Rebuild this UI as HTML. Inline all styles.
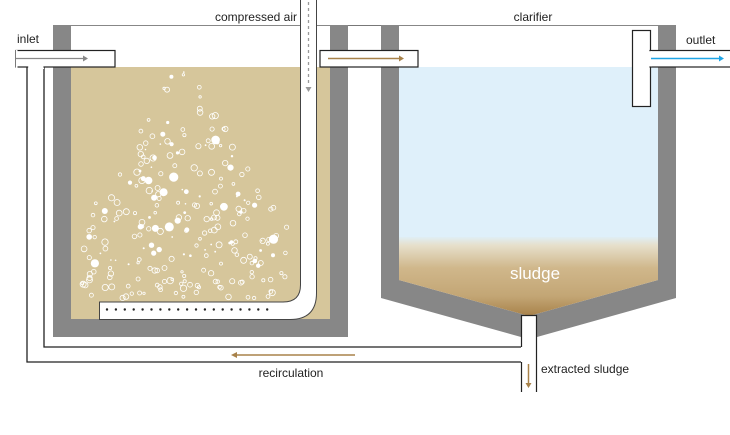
<!DOCTYPE html>
<html><head><meta charset="utf-8"><style>
html,body{margin:0;padding:0;background:#fff;}
svg{display:block;font-family:"Liberation Sans",sans-serif;}
</style></head><body>
<svg id="s" width="730" height="435" viewBox="0 0 730 435">
<defs>
<linearGradient id="sl" gradientUnits="userSpaceOnUse" x1="0" y1="236" x2="0" y2="316">
<stop offset="0" stop-color="#dff0fa"/>
<stop offset="0.12" stop-color="#e6dfca"/>
<stop offset="0.4" stop-color="#d0b78b"/>
<stop offset="0.75" stop-color="#c3a675"/>
<stop offset="1" stop-color="#a8824a"/>
</linearGradient>
</defs>
<line x1="53" y1="25.5" x2="676" y2="25.5" stroke="#777" stroke-width="1"/>
<rect x="53" y="25" width="295" height="312" fill="#878787"/>
<rect x="71" y="26" width="259" height="293" fill="#fff"/>
<rect x="71" y="67" width="259" height="252" fill="#d6c69b"/>
<g id="bub"></g>
<polygon points="381,25 676,25 676,298 537,337 521,337 381,298" fill="#878787"/>
<polygon points="399,26 658,26 658,280 529,316 399,280" fill="#fff"/>
<polygon points="399,67 658,67 658,280 529,316 399,280" fill="url(#sl)"/>
<rect x="399" y="67" width="259" height="170" fill="#dff0fa"/>
<text x="535" y="279" font-size="17" fill="#fff" text-anchor="middle">sludge</text>
<path d="M27,67 V362 H521 M44,67 V347 H521" fill="none" stroke="#222" stroke-width="1.3"/>
<rect x="28" y="67" width="16" height="2" fill="#fff"/>
<rect x="521" y="315" width="16" height="80" fill="#fff"/>
<path d="M521.5,315 V347 M521.5,362 V392 M536.5,315 V392 M521,315.5 H537" fill="none" stroke="#222" stroke-width="1.2"/>
<rect x="16" y="50.5" width="99" height="16.5" fill="#fff" stroke="#222" stroke-width="1.2"/>
<rect x="16" y="50" width="1.5" height="18" fill="#fff"/>
<rect x="28.2" y="66" width="15.2" height="3" fill="#fff"/>
<line x1="16" y1="58.5" x2="83" y2="58.5" stroke="#888" stroke-width="1.3"/>
<polygon points="83,55.5 88,58.5 83,61.5" fill="#888"/>
<text x="17" y="43" font-size="12" fill="#222">inlet</text>
<rect x="320" y="50.5" width="98" height="16.5" fill="#fff" stroke="#222" stroke-width="1.2"/>
<line x1="328" y1="58.5" x2="400" y2="58.5" stroke="#a8824a" stroke-width="1.5"/>
<polygon points="399,55.5 404,58.5 399,61.5" fill="#a8824a"/>
<path d="M300.5,0 V285 Q300.5,302 283,302 H99.5 V319.5 H290 Q316.5,319.5 316.5,293 V0" fill="#fff" stroke="#444" stroke-width="1"/>
<line x1="308.5" y1="2" x2="308.5" y2="86" stroke="#999" stroke-width="1.3" stroke-dasharray="3,3"/>
<polygon points="305.5,87 311.5,87 308.5,92" fill="#999"/>
<text x="297" y="21" font-size="12" fill="#222" text-anchor="end">compressed air</text>
<g id="dots"></g>
<rect x="632.5" y="30.5" width="18" height="76" fill="#fff" stroke="#222" stroke-width="1.2"/>
<rect x="650" y="50.5" width="82" height="16.5" fill="#fff" stroke="#222" stroke-width="1.2"/>
<rect x="648" y="51.2" width="4" height="15.2" fill="#fff"/>
<line x1="651" y1="58.5" x2="720" y2="58.5" stroke="#1ea5e6" stroke-width="1.5"/>
<polygon points="719,55.5 724,58.5 719,61.5" fill="#1ea5e6"/>
<text x="686" y="44" font-size="12" fill="#222">outlet</text>
<text x="533" y="21" font-size="12" fill="#222" text-anchor="middle">clarifier</text>
<line x1="236" y1="355" x2="355" y2="355" stroke="#a8824a" stroke-width="1.5"/>
<polygon points="237,352 231,355 237,358" fill="#a8824a"/>
<text x="291" y="377" font-size="12" fill="#222" text-anchor="middle">recirculation</text>
<line x1="528.5" y1="364" x2="528.5" y2="384" stroke="#a8824a" stroke-width="1.5"/>
<polygon points="525.5,383 531.5,383 528.5,388" fill="#a8824a"/>
<text x="541" y="373" font-size="12" fill="#222">extracted sludge</text>
</svg>
<script>
(function(){
var ns="http://www.w3.org/2000/svg";
var d=document.getElementById("dots");
for(var x=107;x<=276;x+=8.9){var c=document.createElementNS(ns,"circle");c.setAttribute("cx",x);c.setAttribute("cy",309.5);c.setAttribute("r",1.2);c.setAttribute("fill","#222");d.appendChild(c);}
var g=document.getElementById("bub");var s=11;
function r(){s=(s*16807)%2147483647;return s/2147483647;}
for(var i=0;i<260;i++){
 var y=70+228*Math.sqrt(r());
 var t=(y-70)/228;
 var half=10+t*140; if(half>100) half=100+(half-100)*0.3;
 var cx=185+(r()*2-1)*half;
 if(cx<82||cx>290||y>298) continue;
 var c=document.createElementNS(ns,"circle");
 c.setAttribute("cx",cx.toFixed(1));c.setAttribute("cy",y.toFixed(1));
 var filled=r()<0.35 && y<270;
 var rad=filled?(0.8+Math.pow(r(),2)*4):(1.2+r()*2);
 c.setAttribute("r",rad.toFixed(1));
 if(filled){c.setAttribute("fill","#fff");}else{c.setAttribute("fill","none");c.setAttribute("stroke","#fff");c.setAttribute("stroke-width","0.8");}
 g.appendChild(c);
}
})();
</script>
</body></html>
